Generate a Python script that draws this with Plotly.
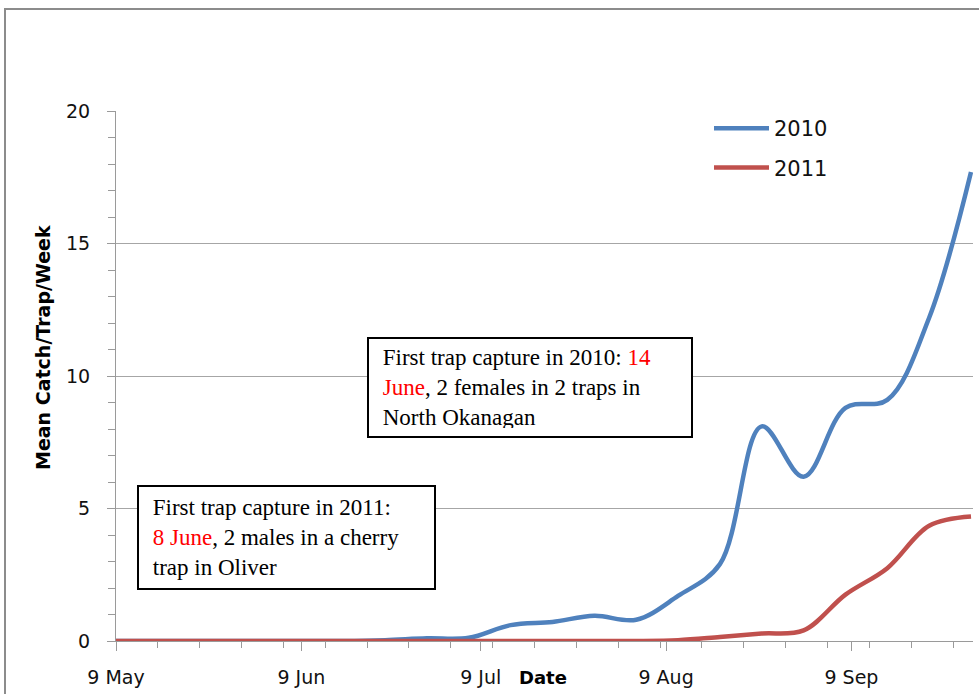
import plotly.graph_objects as go

# ---- data ----
dates = ["2010-05-09", "2010-05-12", "2010-05-19", "2010-05-26", "2010-06-02", "2010-06-09",
         "2010-06-16", "2010-06-23", "2010-06-30", "2010-07-07", "2010-07-14", "2010-07-21",
         "2010-07-28", "2010-08-04", "2010-08-11", "2010-08-18", "2010-08-25", "2010-09-01",
         "2010-09-08", "2010-09-15", "2010-09-22", "2010-09-29"]
catch_2010 = [0, 0, 0, 0, 0, 0,
              0, 0.03, 0.1, 0.12, 0.6, 0.72,
              0.95, 0.8, 1.7, 2.9, 8.1, 6.2,
              8.8, 9.1, 12.2, 17.7]
catch_2011 = [0, 0, 0, 0, 0, 0,
              0, 0, 0, 0, 0, 0,
              0, 0, 0.03, 0.15, 0.28, 0.4,
              1.75, 2.75, 4.35, 4.7]
series_names = ["2010", "2011"]
y_ticks = [0, 5, 10, 15, 20]

BLUE = "#4F81BD"
RED = "#C0504D"
AX = "#9a9a9a"

fig = go.Figure()
for name, vals, col in [(series_names[0], catch_2010, BLUE), (series_names[1], catch_2011, RED)]:
    fig.add_trace(go.Scatter(
        x=dates, y=vals, name=name, mode="lines",
        line=dict(color=col, width=4.5, shape="spline", smoothing=1),
        cliponaxis=False, legendgroup=name,
    ))

NB = "&nbsp;"
fig.update_layout(
    template="none",
    width=979, height=694, autosize=False,
    margin=dict(l=116, r=6, t=111, b=53, autoexpand=False),
    paper_bgcolor="white", plot_bgcolor="white",
    font=dict(family="DejaVu Sans", color="#111111"),
    showlegend=True,
    legend=dict(x=(709 - 116) / 857, xanchor="left", y=(641 - 108) / 530, yanchor="top",
                font=dict(family="DejaVu Sans", size=21, color="#111111"),
                bgcolor="rgba(0,0,0,0)", tracegroupgap=9, itemwidth=55,
                traceorder="grouped"),
    xaxis=dict(
        type="date", range=["2010-05-09", "2010-09-29 08:00"], automargin=False,
        tickmode="linear", tick0="2010-05-09", dtick="M1", tickformat="%-d %b",
        ticks="outside", ticklen=9, tickcolor=AX, tickwidth=1,
        showline=True, linecolor=AX, linewidth=1,
        showgrid=False, zeroline=False, layer="below traces",
        tickfont=dict(family="DejaVu Sans", size=19, color="#111111"),
        ticklabelstandoff=10,
        minor=dict(ticks="outside", ticklen=6, tickcolor=AX, dtick=7 * 86400000,
                   tick0="2010-05-09", showgrid=False),
    ),
    yaxis=dict(
        range=[0, 20], tickmode="array", tickvals=y_ticks, automargin=False,
        ticks="outside", ticklen=8, tickcolor=AX,
        showline=True, linecolor=AX, linewidth=1,
        showgrid=True, gridcolor="#a6a6a6", gridwidth=1, zeroline=False,
        layer="below traces",
        tickfont=dict(family="DejaVu Sans", size=19, color="#111111"),
        ticklabelstandoff=13,
        minor=dict(ticks="outside", ticklen=7, tickcolor=AX, dtick=1, showgrid=False),
    ),
    shapes=[dict(type="rect", xref="paper", yref="paper",
                 x0=(5 - 116) / 857, x1=1.5, y0=-0.5, y1=(641 - 9) / 530,
                 line=dict(color="#8c8c8c", width=2), fillcolor="rgba(0,0,0,0)", layer="below")],
    annotations=[
        dict(text="<b>Mean Catch/Trap/Week</b>", xref="paper", yref="paper",
             x=(43 - 116) / 857, y=(641 - 348) / 530, textangle=-90, showarrow=False,
             xanchor="center", yanchor="middle",
             font=dict(family="DejaVu Sans", size=19, color="#000000")),
        dict(text="<b>Date</b>", xref="paper", yref="paper",
             x=(543 - 116) / 857, y=(641 - 677) / 530, showarrow=False,
             xanchor="center", yanchor="middle",
             font=dict(family="DejaVu Sans", size=18, color="#000000")),
        dict(text=(NB + "First trap capture in 2010: <span style='color:#FF0000'>14</span><br>"
                   + NB + "<span style='color:#FF0000'>June</span>, 2 females in 2 traps in<br>"
                   + NB + "North Okanagan"),
             xref="paper", yref="paper", x=(530 - 116) / 857, y=(641 - 387.5) / 530,
             xanchor="center", yanchor="middle", showarrow=False, align="left",
             width=306, height=81, borderpad=8, borderwidth=2, bordercolor="#000000",
             bgcolor="white",
             font=dict(family="Liberation Serif", size=23, color="#000000")),
        dict(text=(NB + "First trap capture in 2011:<br>"
                   + NB + "<span style='color:#FF0000'>8 June</span>, 2 males in a cherry<br>"
                   + NB + "trap in Oliver"),
             xref="paper", yref="paper", x=(286.5 - 116) / 857, y=(641 - 537.5) / 530,
             xanchor="center", yanchor="middle", showarrow=False, align="left",
             width=279, height=85, borderpad=8, borderwidth=2, bordercolor="#000000",
             bgcolor="white",
             font=dict(family="Liberation Serif", size=23, color="#000000")),
    ],
)

fig.write_html("out.html", config={"displayModeBar": False},
               post_script="document.body.style.margin='0';")
